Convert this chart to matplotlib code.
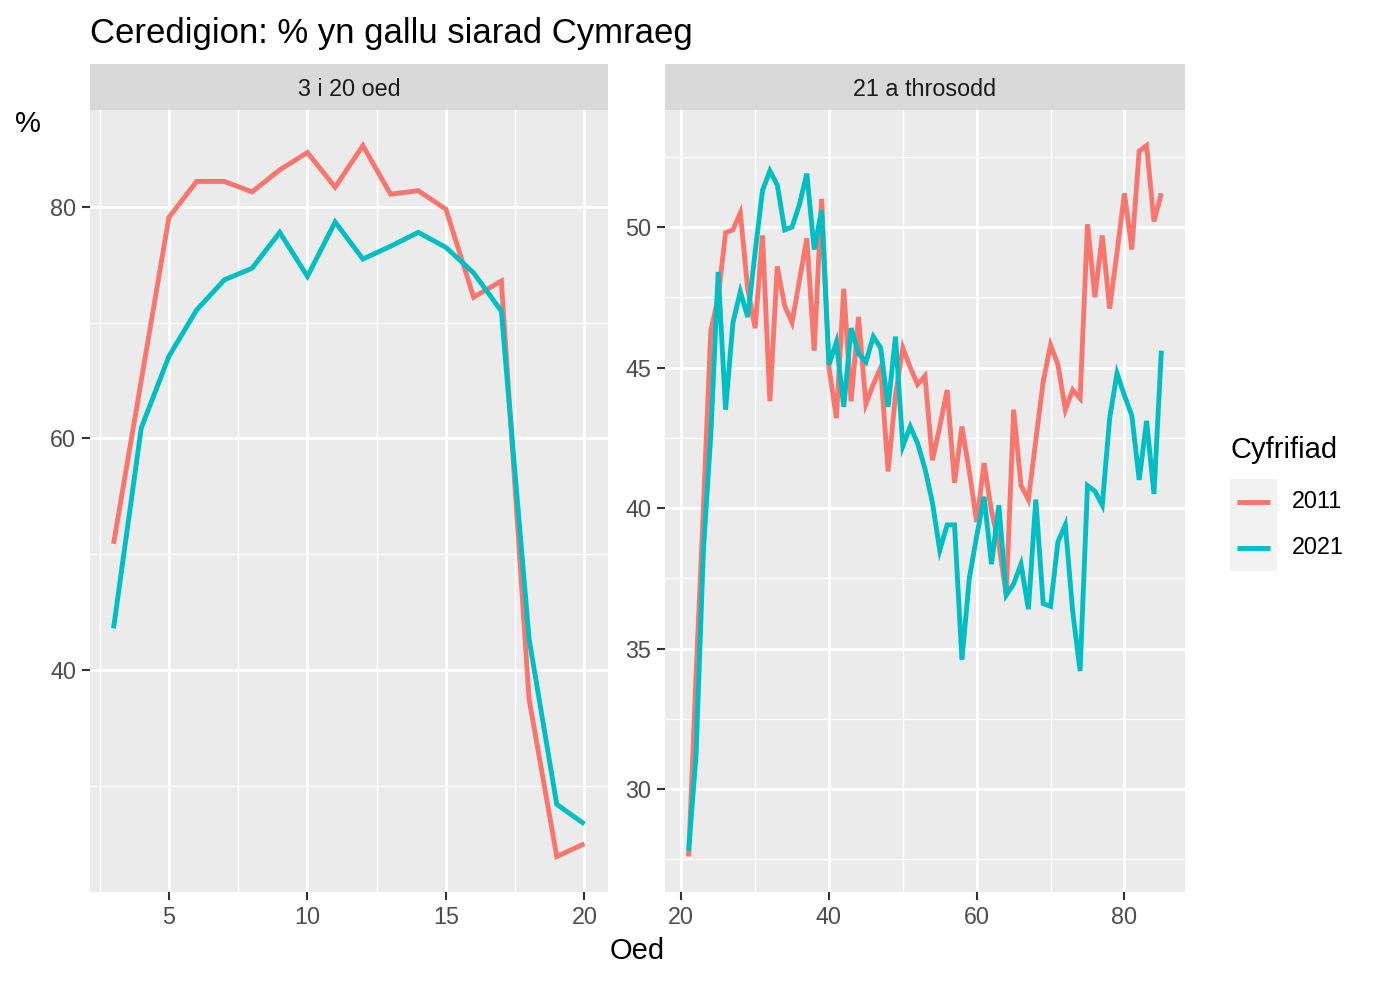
import matplotlib
matplotlib.use("Agg")
import matplotlib.pyplot as plt
from matplotlib.lines import Line2D
import numpy as np

plt.rcParams['font.family'] = ['Liberation Sans', 'DejaVu Sans']

# ---------------- data ----------------
title = "Ceredigion: % yn gallu siarad Cymraeg"
facet_labels = ["3 i 20 oed", "21 a throsodd"]
series_names = ["2011", "2021"]
colors = ["#F8766D", "#00BFC4"]

ages_young = list(range(3, 21))
young_2011 = [50.9, 65.0, 79.1, 82.2, 82.2, 81.3, 83.2, 84.7, 81.7, 85.3,
              81.1, 81.4, 79.8, 72.2, 73.6, 37.5, 23.9, 25.0]
young_2021 = [43.6, 60.9, 67.1, 71.1, 73.7, 74.7, 77.8, 74.0, 78.7, 75.5,
              76.6, 77.8, 76.5, 74.3, 71.0, 42.7, 28.4, 26.7]

ages_old = list(range(21, 86))
old_2011 = [27.6, 34.0, 40.0, 46.3, 47.5, 49.8, 49.9, 50.5, 47.8, 46.4,
            49.7, 43.8, 48.6, 47.2, 46.6, 48.1, 49.6, 45.6, 51.0, 45.0,
            43.2, 47.8, 43.8, 46.8, 43.7, 44.4, 45.0, 41.3, 44.0, 45.7,
            45.0, 44.4, 44.7, 41.7, 42.9, 44.2, 40.9, 42.9, 41.3, 39.5,
            41.6, 39.9, 38.7, 36.9, 43.5, 40.8, 40.3, 42.4, 44.5, 45.8,
            45.1, 43.5, 44.2, 43.9, 50.1, 47.5, 49.7, 47.1, 49.1, 51.2,
            49.2, 52.7, 52.9, 50.2, 51.2]
old_2021 = [27.8, 31.2, 38.5, 42.6, 48.4, 43.5, 46.6, 47.7, 46.8, 49.1,
            51.3, 52.0, 51.5, 49.9, 50.0, 50.8, 51.9, 49.2, 50.6, 45.1,
            45.9, 43.6, 46.4, 45.5, 45.2, 46.1, 45.7, 43.6, 46.1, 42.2,
            42.9, 42.3, 41.4, 40.2, 38.5, 39.4, 39.4, 34.6, 37.5, 39.0,
            40.4, 38.0, 40.1, 36.9, 37.3, 38.0, 36.4, 40.3, 36.6, 36.5,
            38.8, 39.4, 36.3, 34.2, 40.8, 40.6, 40.1, 43.2, 44.8, 44.0,
            43.3, 41.0, 43.1, 40.5, 45.6]

x_major = [[5, 10, 15, 20], [20, 40, 60, 80]]
x_minor = [[2.5, 7.5, 12.5, 17.5], [30, 50, 70]]
y_major = [[40, 60, 80], [30, 35, 40, 45, 50]]
y_minor = [[30, 50, 70], [27.5, 32.5, 37.5, 42.5, 47.5, 52.5]]

# ---------------- figure ----------------
W, H = 1376, 982
fig = plt.figure(figsize=(W / 100, H / 100), dpi=100)
fig.patch.set_facecolor("white")

def fx(px):
    return px / W

def fy(py):
    return 1 - py / H

panel_x = [(90, 608), (665, 1185)]
panel_top, panel_bot = 110, 892
strip_top = 64

datasets = [
    (ages_young, [young_2011, young_2021]),
    (ages_old, [old_2011, old_2021]),
]

def expand(vals, frac=0.05):
    lo, hi = min(vals), max(vals)
    d = (hi - lo) * frac
    return lo - d, hi + d

tick_size = 16.8
for i, (ages, ys) in enumerate(datasets):
    x0, x1 = panel_x[i]
    ax = fig.add_axes([fx(x0), fy(panel_bot), fx(x1 - x0), (panel_bot - panel_top) / H])
    ax.set_facecolor("#EBEBEB")
    for s in ax.spines.values():
        s.set_visible(False)
    allv = ys[0] + ys[1]
    ax.set_xlim(*expand(ages))
    ax.set_ylim(*expand(allv))
    for v in x_minor[i]:
        ax.axvline(v, color="white", lw=1.0, zorder=0.5)
    for v in y_minor[i]:
        ax.axhline(v, color="white", lw=1.0, zorder=0.5)
    for v in x_major[i]:
        ax.axvline(v, color="white", lw=2.0, zorder=0.6)
    for v in y_major[i]:
        ax.axhline(v, color="white", lw=2.0, zorder=0.6)
    for k in range(2):
        ax.plot(ages, ys[k], color=colors[k], lw=3.5, solid_joinstyle="miter",
                solid_capstyle="butt", zorder=2)
    ax.set_xticks(x_major[i])
    ax.set_yticks(y_major[i])
    ax.tick_params(axis="both", direction="out", length=6, width=1.5,
                   color="#333333", labelcolor="#4D4D4D", labelsize=tick_size, pad=4)

    # strip
    sax = fig.add_axes([fx(x0), fy(panel_top), fx(x1 - x0), (panel_top - strip_top) / H])
    sax.set_facecolor("#D9D9D9")
    sax.set_xticks([])
    sax.set_yticks([])
    for s in sax.spines.values():
        s.set_visible(False)
    sax.text(0.5, 0.45, facet_labels[i], ha="center", va="center",
             fontsize=16.8, color="#1A1A1A", transform=sax.transAxes)

# titles
fig.text(fx(90), fy(43), title, fontsize=25, color="black", ha="left", va="baseline")
fig.text(fx(15), fy(124), "%", fontsize=21, color="black", ha="left", va="center")
fig.text(fx(637), fy(951), "Oed", fontsize=21, color="black", ha="center", va="center")

# legend
fig.text(fx(1230), fy(450), "Cyfrifiad", fontsize=21, color="black", ha="left", va="center")
key_x0, key_x1 = 1230, 1277
key_rows = [(479, 525), (525, 571)]
for k, (t, b) in enumerate(key_rows):
    kax = fig.add_axes([fx(key_x0), fy(b), fx(key_x1 - key_x0), (b - t) / H])
    kax.set_facecolor("#F2F2F2")
    kax.set_xticks([])
    kax.set_yticks([])
    for s in kax.spines.values():
        s.set_visible(False)
    kax.set_xlim(0, 1)
    kax.set_ylim(0, 1)
    kax.add_line(Line2D([0.15, 0.85], [0.5, 0.5], color=colors[k], lw=3.5,
                        solid_capstyle="butt"))
    fig.text(fx(1292), fy((t + b) / 2), series_names[k], fontsize=16.8,
             color="black", ha="left", va="center")

fig.savefig("out.png", dpi=100, facecolor="white")
